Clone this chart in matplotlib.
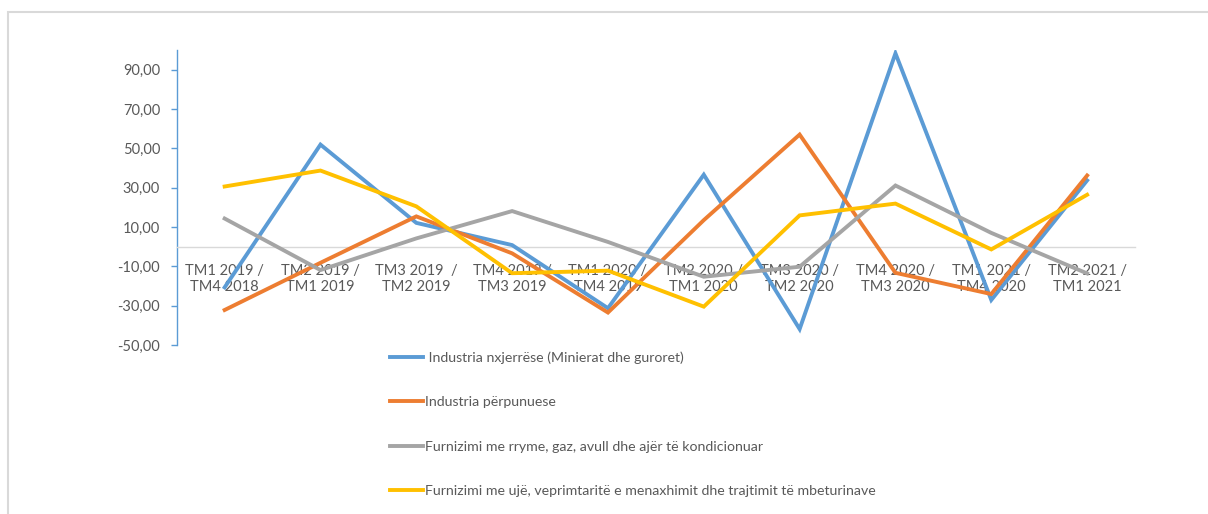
import matplotlib
matplotlib.use("Agg")
import matplotlib.pyplot as plt
from matplotlib.patches import Rectangle
from matplotlib.ticker import FuncFormatter

plt.rcParams['font.family'] = ['Lato', 'DejaVu Sans']

# Kategoritë (tremujorët)
categories = ["TM1 2019 /\nTM4 2018", "TM2 2019 /\nTM1 2019", "TM3 2019  /\nTM2 2019",
              "TM4 2019 /\nTM3 2019", "TM1 2020 /\nTM4 2019", "TM2 2020 /\nTM1 2020",
              "TM3 2020 /\nTM2 2020", "TM4 2020 /\nTM3 2020", "TM1 2021 /\nTM4 2020",
              "TM2 2021 /\nTM1 2021"]

# Seritë
nxjerrese = [-20.7, 51.9, 12.1, 0.8, -31.3, 36.6, -41.9, 98.3, -27.1, 33.7]
perpunuese = [-32.2, -8.2, 15.4, -3.4, -33.5, 13.5, 57.0, -13.3, -24.1, 36.2]
rryme = [14.3, -11.9, 4.2, 18.1, 2.4, -15.3, -10.2, 31.1, 7.0, -13.6]
uje = [30.6, 38.7, 20.5, -13.5, -12.2, -30.5, 15.9, 21.9, -1.4, 26.4]

series_labels = [" Industria nxjerrëse (Minierat dhe guroret)",
                 "Industria përpunuese",
                 "Furnizimi me rryme, gaz, avull dhe ajër të kondicionuar",
                 "Furnizimi me ujë, veprimtaritë e menaxhimit dhe trajtimit të mbeturinave"]
colors = ["#5b9bd5", "#ed7d31", "#a5a5a5", "#ffc000"]
yticks = [-50, -30, -10, 10, 30, 50, 70, 90]

fig = plt.figure(figsize=(12.08, 5.14), dpi=100)
ax = fig.add_axes([0.1463, 0.3288, 0.7933, 0.5739])

x = range(len(categories))
for vals, lab, c in zip([nxjerrese, perpunuese, rryme, uje], series_labels, colors):
    ax.plot(x, vals, color=c, lw=2.8, label=lab, zorder=3, solid_joinstyle='miter')

ax.set_xlim(-0.5, len(categories) - 0.5)
ax.set_ylim(-50, 100)
ax.set_yticks(yticks)
ax.yaxis.set_major_formatter(FuncFormatter(lambda v, p: f"{v:.2f}".replace('.', ',')))
ax.set_xticks(list(x))
ax.set_xticklabels(categories, linespacing=1.55)

for s in ['top', 'right']:
    ax.spines[s].set_visible(False)
ax.spines['left'].set_color('#5b9bd5')
ax.spines['left'].set_linewidth(1)
ax.spines['bottom'].set_position(('data', 0))
ax.spines['bottom'].set_color('#d9d9d9')
ax.spines['bottom'].set_linewidth(1)

ax.tick_params(axis='y', colors='#5b9bd5', labelcolor='#595959', labelsize=10.5,
               length=4, width=1, pad=8)
ax.tick_params(axis='x', length=0, labelcolor='#595959', labelsize=10.5, pad=12.5)

fig.legend(loc='upper left', bbox_to_anchor=(390 / 1208, 1 - 351 / 514),
           frameon=False, fontsize=10.2, labelcolor='#595959', handlelength=2.35,
           handletextpad=0.15, labelspacing=2.3, borderpad=0, borderaxespad=0)

# Korniza e grafikut
fig.patches.append(Rectangle((8 / 1208, -0.02), 1.02, 1 - 11.5 / 514 + 0.02,
                             transform=fig.transFigure, fill=False,
                             edgecolor='#d9d9d9', lw=1.5))

fig.savefig("out.png", dpi=100)
